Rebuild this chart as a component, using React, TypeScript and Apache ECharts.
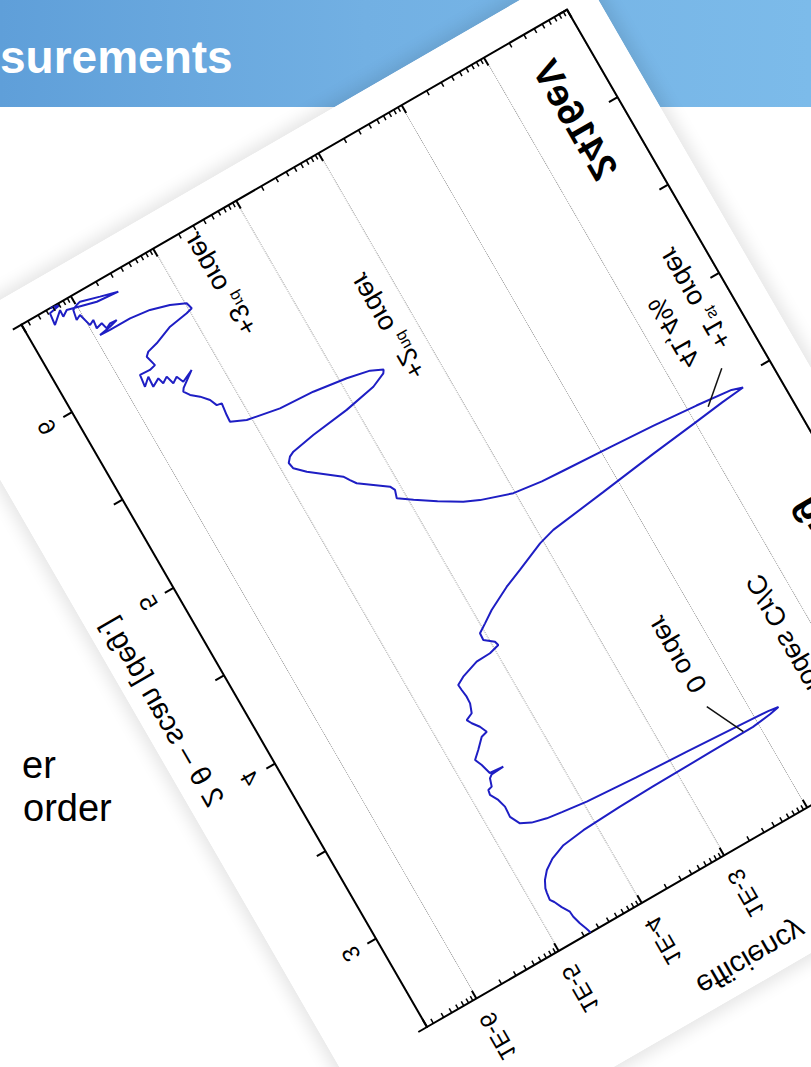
import { useEffect, useRef } from 'react';
import * as echarts from 'echarts';

const FONT = '"Liberation Sans", Arial, Helvetica, sans-serif';

// Axis ranges: 2θ in degrees, efficiency as decades (log10)
const TWO_THETA_MIN = 2.5;
const TWO_THETA_MAX = 6.5;
const LOG_EFF_MIN = -6.6;
const LOG_EFF_MAX = 0;

// Tick labels shown on the axes
const TWO_THETA_LABELS = [3, 4, 5, 6];
const EFFICIENCY_DECADE_LABELS = [-6, -5, -4, -3];

// Measured efficiency curve, points are [2θ (deg), log10(efficiency)]
const risingEdge = [
  [2.5, -4.62], [2.53, -4.64], [2.566, -4.67], [2.61, -4.695], [2.64, -4.7],
  [2.68, -4.75], [2.72, -4.79], [2.74, -4.82], [2.776, -4.81], [2.8, -4.8],
  [2.837, -4.76], [2.875, -4.69], [2.91, -4.58], [2.94, -4.41], [2.955, -4.15],
  [2.965, -3.7], [2.97, -3.3], [2.975, -2.6], [2.978, -2.07], [2.99, -1.85],
];
const zeroOrderPeak = [
  [3.0, -1.735], [3.008, -1.85], [3.018, -2.18], [3.035, -2.8], [3.05, -3.4],
  [3.069, -3.97], [3.085, -4.25], [3.096, -4.42], [3.115, -4.58], [3.141, -4.69],
];
const plateau = [
  [3.193, -4.746], [3.249, -4.738], [3.294, -4.764], [3.336, -4.813], [3.361, -4.802],
  [3.367, -4.754], [3.407, -4.726], [3.42, -4.69], [3.424, -4.544], [3.43, -4.7],
  [3.484, -4.731], [3.522, -4.765], [3.557, -4.684], [3.605, -4.583], [3.614, -4.511],
  [3.652, -4.547], [3.687, -4.603], [3.713, -4.632], [3.73, -4.551], [3.776, -4.514],
  [3.813, -4.51], [3.854, -4.52], [3.884, -4.525], [3.907, -4.436], [3.938, -4.236],
  [3.941, -4.071], [3.956, -3.952], [3.978, -3.965], [4.014, -4.062], [4.051, -4.057],
  [4.081, -3.959], [4.122, -3.829], [4.184, -3.57], [4.223, -3.363], [4.287, -3.041],
];
// +1st order peak, top value 41,4 %  (log10(0.414) = -0.383)
const firstOrderPeak = [
  [4.312, -2.85], [4.35, -2.2], [4.39, -1.55], [4.42, -1.0], [4.44, -0.65],
  [4.452, -0.383], [4.47, -0.5], [4.49, -0.9], [4.51, -1.4], [4.525, -1.9],
  [4.54, -2.45], [4.547, -2.7], [4.567, -3.02], [4.62, -3.36], [4.654, -3.52],
  [4.72, -3.75], [4.785, -3.96], [4.833, -4.105], [4.873, -4.077], [4.899, -4.105],
  [4.996, -4.39], [5.026, -4.434], [5.057, -4.477], [5.168, -4.782], [5.216, -4.886],
  [5.25, -4.9], [5.274, -4.856], [5.287, -4.799],
];
const secondOrderPeak = [
  [5.309, -4.531], [5.334, -4.096], [5.367, -3.733], [5.4, -3.572], [5.415, -3.55],
  [5.444, -3.679], [5.469, -3.93], [5.494, -4.304], [5.505, -4.693], [5.537, -5.056],
  [5.571, -5.217], [5.608, -5.212], [5.67, -5.195], [5.675, -5.25], [5.713, -5.284],
  [5.752, -5.357], [5.784, -5.439], [5.815, -5.483],
];
const thirdOrderRegion = [
  [5.83, -5.46], [5.887, -5.294], [5.857, -5.431], [5.895, -5.465], [5.875, -5.53],
  [5.92, -5.555], [5.9, -5.621], [5.933, -5.64], [5.91, -5.729], [5.965, -5.722],
  [5.93, -5.805], [5.993, -5.788], [5.99, -5.672], [5.998, -5.601], [6.054, -5.632],
  [6.072, -5.591], [6.087, -5.471], [6.125, -5.263], [6.141, -5.042], [6.15, -4.97],
  [6.184, -4.989], [6.218, -5.15], [6.246, -5.357], [6.259, -5.582], [6.259, -5.825],
  [6.262, -5.942], [6.273, -5.808], [6.285, -5.712], [6.287, -5.79], [6.274, -5.846],
  [6.308, -5.865], [6.299, -5.936], [6.343, -5.924], [6.329, -5.98], [6.397, -6.019],
  [6.384, -6.075], [6.435, -6.053], [6.448, -5.997], [6.454, -5.949], [6.426, -5.741],
  [6.402, -5.549], [6.412, -5.797], [6.451, -6.113], [6.431, -6.179], [6.467, -6.174],
  [6.416, -6.298], [6.478, -6.282], [6.49, -6.15], [6.5, -6.25],
];

// Leader lines from the labels to their peaks
const zeroOrderLeader = [[3.178, -2.384], [2.981, -2.183]];
const firstOrderLeader = [[4.587, -0.475], [4.456, -0.8]];

// Label anchors, [2θ, log10(efficiency)]
const zeroOrderLabelAt = [3.264, -2.367];
const firstOrderLabelAt = [4.67, -0.335];
const firstOrderValueAt = [4.67, -0.722];
const secondOrderLabelAt = [5.297, -3.268];
const thirdOrderLabelAt = [5.898, -4.567];
const energyLabelAt = [6.009, -0.503];
const gratingLabelAt = [3.83, -0.38];
const sampleLabelAt = [3.62, -1.29];

export default function App() {
  const ref = useRef<HTMLDivElement>(null);

  useEffect(() => {
    if (!ref.current) return;
    const chart = echarts.init(ref.current, undefined, { renderer: 'svg' });

    const curve = [
      ...risingEdge, ...zeroOrderPeak, ...plateau,
      ...firstOrderPeak, ...secondOrderPeak, ...thirdOrderRegion,
    ];

    // log-decade minor ticks (2..9 × 10^n) on the efficiency axes
    const minorTicks: number[][] = [];
    for (let n = -7; n < 0; n++) {
      for (let k = 2; k <= 9; k++) {
        const v = n + Math.log10(k);
        if (v > LOG_EFF_MIN && v < LOG_EFF_MAX) minorTicks.push([TWO_THETA_MIN, v]);
      }
    }

    const black = '#000000';
    const axisLine = { onZero: false, lineStyle: { color: black, width: 2 } };

    chart.setOption({
      animation: false,
      backgroundColor: '#ffffff',
      grid: { left: 128, right: 32, top: 32, bottom: 96 },
      xAxis: [
        {
          type: 'value', min: TWO_THETA_MIN, max: TWO_THETA_MAX, interval: 0.5,
          position: 'bottom', axisLine,
          axisTick: { inside: false, length: 10, lineStyle: { color: black, width: 2 } },
          axisLabel: {
            formatter: (v: number) => (TWO_THETA_LABELS.includes(v) ? String(v) : ''),
            color: black, fontSize: 24, fontFamily: FONT, margin: 17,
          },
          splitLine: { show: false },
          name: '2 θ – scan [deg.]', nameLocation: 'middle', nameGap: 56,
          nameTextStyle: { color: black, fontSize: 29, fontFamily: FONT },
        },
        {
          type: 'value', min: TWO_THETA_MIN, max: TWO_THETA_MAX, interval: 0.5,
          position: 'top', axisLine,
          axisTick: { inside: true, length: 10, lineStyle: { color: black, width: 2 } },
          axisLabel: { show: false }, splitLine: { show: false },
        },
      ],
      yAxis: [
        {
          type: 'value', min: LOG_EFF_MIN, max: LOG_EFF_MAX, position: 'left', axisLine,
          axisTick: { inside: true, length: 9, lineStyle: { color: black, width: 2 } },
          axisLabel: {
            formatter: (v: number) => (EFFICIENCY_DECADE_LABELS.includes(v) ? `1E${v}` : ''),
            color: black, fontSize: 24, fontFamily: FONT, margin: 18,
          },
          splitLine: { show: true, lineStyle: { type: 'dotted', color: '#9a9a9a', width: 1 } },
          name: 'efficiency', nameLocation: 'middle', nameGap: 88,
          nameTextStyle: { color: black, fontSize: 29, fontFamily: FONT },
        },
        {
          type: 'value', min: LOG_EFF_MIN, max: LOG_EFF_MAX, position: 'right', axisLine,
          axisTick: { inside: true, length: 9, lineStyle: { color: black, width: 2 } },
          axisLabel: { show: false }, splitLine: { show: false },
        },
      ],
      series: [
        {
          type: 'line', data: curve, symbol: 'none', z: 4,
          lineStyle: { color: '#1e1ec4', width: 2 },
        },
        {
          type: 'line', data: zeroOrderLeader, symbol: 'none', z: 5,
          lineStyle: { color: '#111111', width: 1.5 },
        },
        {
          type: 'line', data: firstOrderLeader, symbol: 'none', z: 5,
          lineStyle: { color: '#111111', width: 1.5 },
        },
        {
          type: 'custom', data: minorTicks, silent: true, z: 6,
          renderItem: (_p: any, api: any) => {
            const v = api.value(1);
            const l = api.coord([TWO_THETA_MIN, v]);
            const r = api.coord([TWO_THETA_MAX, v]);
            return {
              type: 'group',
              children: [
                { type: 'line', shape: { x1: l[0], y1: l[1], x2: l[0] + 5, y2: l[1] }, style: { stroke: black, lineWidth: 1.5 } },
                { type: 'line', shape: { x1: r[0], y1: r[1], x2: r[0] - 5, y2: r[1] }, style: { stroke: black, lineWidth: 1.5 } },
              ],
            };
          },
        },
      ],
    });

    const px = (p: number[]) => chart.convertToPixel({ xAxisIndex: 0, yAxisIndex: 0 }, p) as number[];
    const plain = { fontSize: 27, fontFamily: FONT, fill: black };
    const bold = { fontSize: 38, fontWeight: 'bold', fontFamily: FONT, fill: black };
    const rich = {
      m: { fontSize: 27, fontFamily: FONT, fill: black, lineHeight: 30 },
      s: { fontSize: 16, fontFamily: FONT, fill: black, verticalAlign: 'top' },
    };
    const at = (p: number[], style: any) => {
      const [x, y] = px(p);
      return { type: 'text', x, y, z: 10, style: { align: 'left', verticalAlign: 'middle', ...style } };
    };

    chart.setOption({
      graphic: [
        at(zeroOrderLabelAt, { text: '0 order', ...plain }),
        at(firstOrderLabelAt, { text: '{m|+1}{s|st}{m| order}', rich }),
        at(firstOrderValueAt, { text: '41,4%', ...plain }),
        at(secondOrderLabelAt, { text: '{m|+2}{s|nd}{m| order}', rich }),
        at(thirdOrderLabelAt, { text: '{m|+3}{s|rd}{m| order}', rich }),
        at(energyLabelAt, { text: '2416eV', ...bold, align: 'center' }),
        at(gratingLabelAt, { text: 'Grating', ...bold, align: 'right' }),
        at(sampleLabelAt, { text: 'Diodes Cr/C', ...plain, align: 'right' }),
      ],
    });

    return () => chart.dispose();
  }, []);

  return (
    <div style={{ position: 'fixed', left: 0, top: 0, width: 811, height: 1067, overflow: 'hidden', background: '#ffffff', fontFamily: FONT }}>
      <div style={{ position: 'absolute', left: 0, top: 0, width: 811, height: 107, background: 'linear-gradient(90deg, #5f9fd9 0%, #72b0e3 45%, #7cbbea 100%)' }} />
      <div style={{ position: 'absolute', left: 0, top: 29, color: '#ffffff', fontWeight: 'bold', fontSize: 46, lineHeight: '56px', whiteSpace: 'nowrap' }}>surements</div>
      <div style={{ position: 'absolute', left: 22, top: 746, color: '#000000', fontSize: 38, lineHeight: '38px', whiteSpace: 'nowrap' }}>er</div>
      <div style={{ position: 'absolute', left: 23, top: 789, color: '#000000', fontSize: 38, lineHeight: '38px', whiteSpace: 'nowrap' }}>order</div>
      <div
        ref={ref}
        style={{
          position: 'absolute', left: 299, top: 365, width: 971, height: 758,
          background: '#ffffff', transformOrigin: '128px 662px',
          transform: 'rotate(60deg) scaleX(-1)',
          boxShadow: '0 0 16px 6px rgba(0,0,0,0.10)',
        }}
      />
    </div>
  );
}
